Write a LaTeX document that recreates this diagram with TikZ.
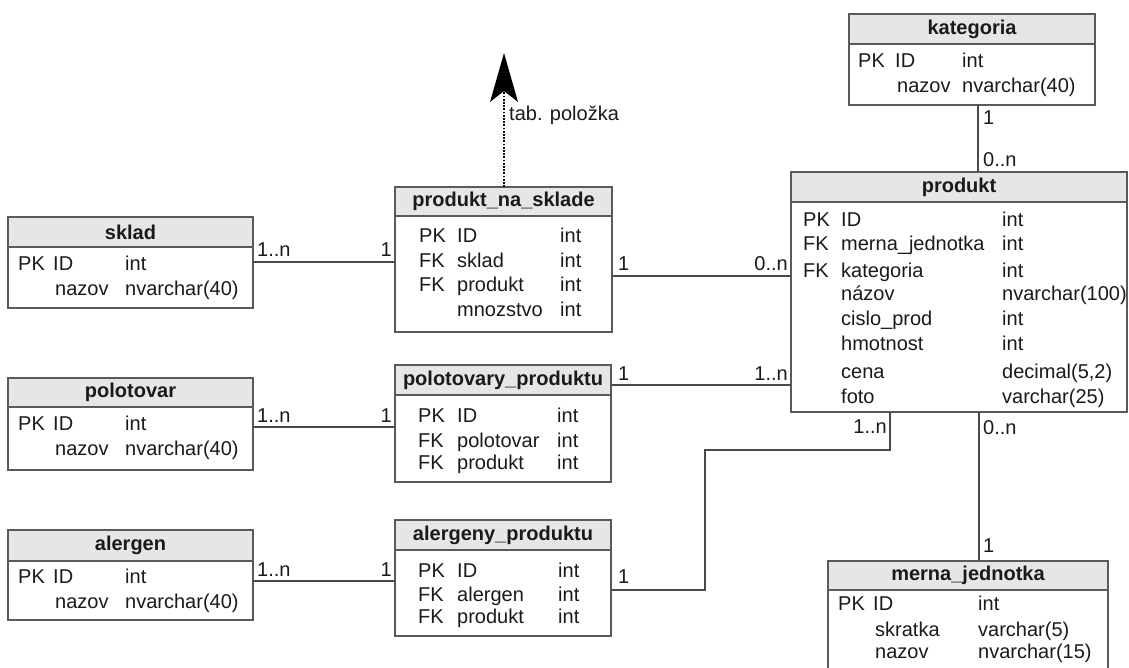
\documentclass[tikz,border=0pt]{standalone}
\usepackage{fontspec}
\setmainfont{Liberation Sans}
\usetikzlibrary{arrows.meta}

\definecolor{frame}{HTML}{5A5A5A}
\definecolor{headfill}{HTML}{E6E6E6}
\definecolor{wire}{HTML}{4A4A4A}
\definecolor{ink}{HTML}{1A1A1A}

\tikzset{
  tablebox/.style={draw=frame, line width=1.6pt, fill=white, inner sep=0pt, outer sep=0pt},
  tablehead/.style={draw=frame, line width=1.6pt, fill=headfill, inner sep=0pt, outer sep=0pt,
                    font=\fontsize{20}{22}\selectfont\bfseries, text=ink},
  cell/.style={inner sep=0pt, anchor=base west, font=\fontsize{20}{22}\selectfont, text=ink},
  cardl/.style={inner sep=0pt, anchor=base west, font=\fontsize{20}{22}\selectfont, text=ink},
  cardr/.style={inner sep=0pt, anchor=base east, font=\fontsize{20}{22}\selectfont, text=ink},
  relation/.style={draw=wire, line width=1.8pt},
  reference/.style={draw=black, line width=2.4pt, dash pattern=on 1.8pt off 1.4pt}
}

% table: name, x1, y1, x2, y2, header bottom, title
\newcommand\ertable[7]{%
  \node[tablebox, minimum width={(#4-#2)*1pt}, minimum height={(#5-#3)*1pt}]
    (#1) at ({(#2+#4)/2},{(#3+#5)/2}) {};
  \node[tablehead, minimum width={(#4-#2)*1pt}, minimum height={(#6-#3)*1pt}, anchor=north west]
    (#1-h) at (#2,#3) {#7};
}

\begin{document}
\begin{tikzpicture}[x=1pt, y=-1pt]
\clip (0,0) rectangle (1129,668);
\fill[white] (0,0) rectangle (1129,668);

% ---------- tables ----------
\ertable{sklad}{8}{217}{253}{308}{247}{sklad}
\node[cell] at (18,270) {PK};  \node[cell] at (53,270) {ID};    \node[cell] at (125,270) {int};
\node[cell] at (55,295) {nazov}; \node[cell] at (125,295) {nvarchar(40)};

\ertable{polotovar}{8}{378}{253}{470}{407}{polotovar}
\node[cell] at (18,430) {PK};  \node[cell] at (53,430) {ID};    \node[cell] at (125,430) {int};
\node[cell] at (55,455) {nazov}; \node[cell] at (125,455) {nvarchar(40)};

\ertable{alergen}{8}{530}{253}{620}{561}{alergen}
\node[cell] at (18,583) {PK};  \node[cell] at (53,583) {ID};    \node[cell] at (125,583) {int};
\node[cell] at (55,608) {nazov}; \node[cell] at (125,608) {nvarchar(40)};

\ertable{pns}{395}{187}{612}{332}{216}{produkt\_na\_sklade}
\node[cell] at (419,243) {PK}; \node[cell] at (457,243) {ID};        \node[cell] at (560,243) {int};
\node[cell] at (419,268) {FK}; \node[cell] at (457,268) {sklad};     \node[cell] at (560,268) {int};
\node[cell] at (419,291) {FK}; \node[cell] at (457,291) {produkt};   \node[cell] at (560,291) {int};
\node[cell] at (457,316) {mnozstvo}; \node[cell] at (560,316) {int};

\ertable{pp}{395}{365}{611}{482}{395}{polotovary\_produktu}
\node[cell] at (418,422) {PK}; \node[cell] at (457,422) {ID};        \node[cell] at (557,422) {int};
\node[cell] at (418,447) {FK}; \node[cell] at (457,447) {polotovar}; \node[cell] at (557,447) {int};
\node[cell] at (418,469) {FK}; \node[cell] at (457,469) {produkt};   \node[cell] at (557,469) {int};

\ertable{ap}{395}{520}{611}{636}{550}{alergeny\_produktu}
\node[cell] at (418,577) {PK}; \node[cell] at (457,577) {ID};        \node[cell] at (558,577) {int};
\node[cell] at (418,601) {FK}; \node[cell] at (457,601) {alergen};   \node[cell] at (558,601) {int};
\node[cell] at (418,623) {FK}; \node[cell] at (457,623) {produkt};   \node[cell] at (558,623) {int};

\ertable{kat}{849}{14}{1095}{105}{44}{kategoria}
\node[cell] at (858,68) {PK};  \node[cell] at (895,68) {ID};    \node[cell] at (962,68) {int};
\node[cell] at (897,93) {nazov}; \node[cell] at (962,93) {nvarchar(40)};

\ertable{prod}{791}{172}{1127}{412}{202}{produkt}
\node[cell] at (803,227) {PK}; \node[cell] at (841,227) {ID};             \node[cell] at (1002,227) {int};
\node[cell] at (803,251) {FK}; \node[cell] at (841,251) {merna\_jednotka}; \node[cell] at (1002,251) {int};
\node[cell] at (803,277) {FK}; \node[cell] at (841,277) {kategoria};      \node[cell] at (1002,277) {int};
\node[cell] at (841,300) {názov};      \node[cell] at (1002,300) {nvarchar(100)};
\node[cell] at (841,325) {cislo\_prod}; \node[cell] at (1002,325) {int};
\node[cell] at (841,350) {hmotnost};   \node[cell] at (1002,350) {int};
\node[cell] at (841,378) {cena};       \node[cell] at (1002,378) {decimal(5,2)};
\node[cell] at (841,403) {foto};       \node[cell] at (1002,403) {varchar(25)};

\ertable{mj}{828}{561}{1108}{700}{590}{merna\_jednotka}
\node[cell] at (838,610) {PK}; \node[cell] at (873,610) {ID};      \node[cell] at (978,610) {int};
\node[cell] at (875,636) {skratka}; \node[cell] at (978,636) {varchar(5)};
\node[cell] at (875,658) {nazov};   \node[cell] at (978,658) {nvarchar(15)};

% ---------- relations ----------
\draw[relation] (sklad.east |- 0,262) -- (pns.west |- 0,262);
\node[cardl] at (257,257) {1..n}; \node[cardr] at (392,257) {1};

\draw[relation] (polotovar.east |- 0,427) -- (pp.west |- 0,427);
\node[cardl] at (257,422) {1..n}; \node[cardr] at (392,422) {1};

\draw[relation] (alergen.east |- 0,581) -- (ap.west |- 0,581);
\node[cardl] at (257,576) {1..n}; \node[cardr] at (392,576) {1};

\draw[relation] (pns.east |- 0,276) -- (prod.west |- 0,276);
\node[cardl] at (618,271) {1}; \node[cardr] at (788,271) {0..n};

\draw[relation] (pp.east |- 0,385) -- (prod.west |- 0,385);
\node[cardl] at (618,380) {1}; \node[cardr] at (788,380) {1..n};

\coordinate (apbend) at (705,590);
\draw[relation] (ap.east |- apbend) -- (apbend) -- (705,450) -- (890,450) -- (890,0 |- prod.south);
\node[cardl] at (618,583) {1}; \node[cardr] at (887,433) {1..n};

\draw[relation] (978,0 |- kat.south) -- (978,0 |- prod.north);
\node[cardl] at (983,125) {1}; \node[cardl] at (983,167) {0..n};

\draw[relation] (979,0 |- prod.south) -- (979,0 |- mj.north);
\node[cardl] at (983,434) {0..n}; \node[cardl] at (983,552) {1};

% reference to the item table
\coordinate (itemref) at (504,53);
\draw[reference, -{Stealth[length=49pt, width=28pt, inset=11pt, line width=0pt]}] (pns.north -| itemref) -- (itemref);
\node[cardl] at (509,121) {tab. položka};

\end{tikzpicture}
\end{document}
